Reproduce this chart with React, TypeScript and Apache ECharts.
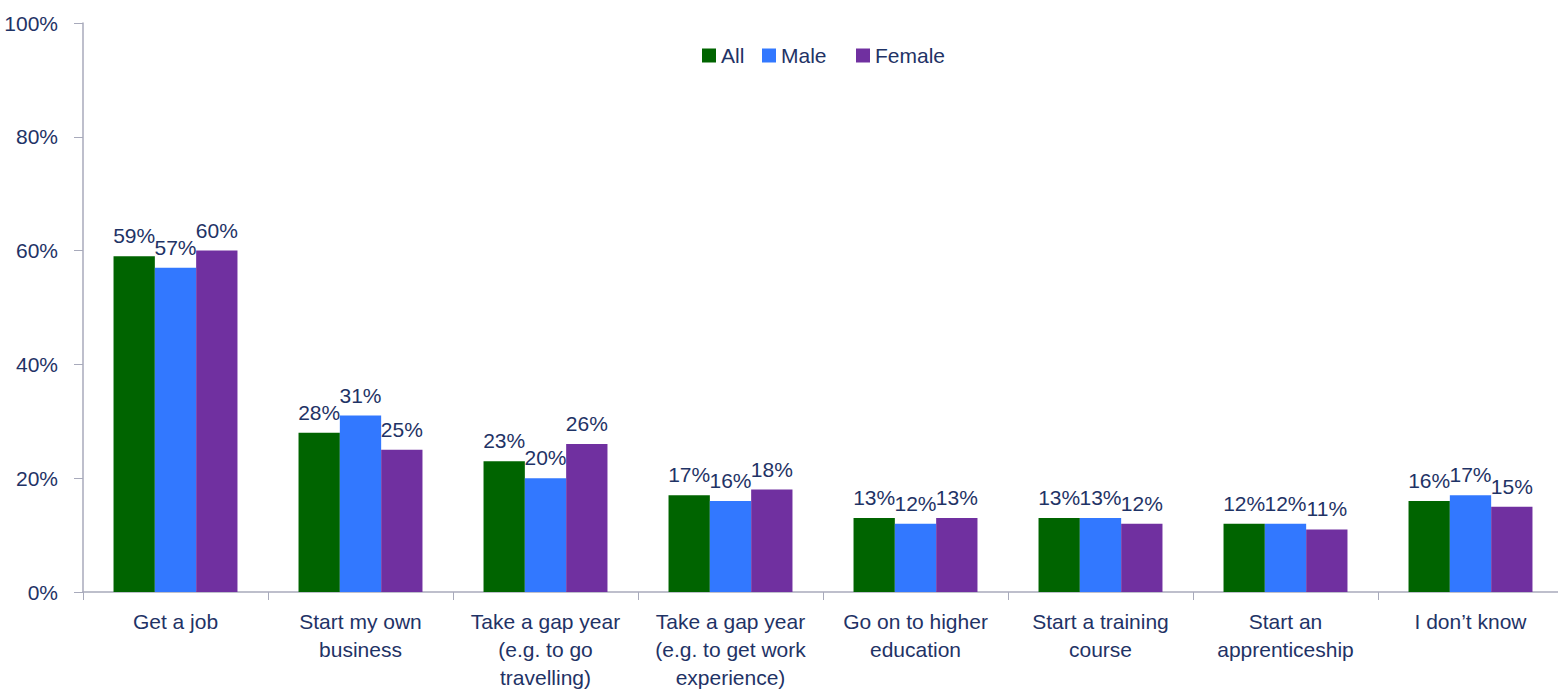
import React, { useEffect, useRef } from "react";
import * as echarts from "echarts";

const categories = [
  "Get a job",
  "Start my own\nbusiness",
  "Take a gap year\n(e.g. to go\ntravelling)",
  "Take a gap year\n(e.g. to get work\nexperience)",
  "Go on to higher\neducation",
  "Start a training\ncourse",
  "Start an\napprenticeship",
  "I don\u2019t know",
];
const allValues = [59, 28, 23, 17, 13, 13, 12, 16];
const maleValues = [57, 31, 20, 16, 12, 13, 12, 17];
const femaleValues = [60, 25, 26, 18, 13, 12, 11, 15];
const seriesNames = ["All", "Male", "Female"];
const colors = ["#006400", "#3278FF", "#7030A0"];
const legendLefts = [697, 757, 851];

const TEXT = "#1F3366";
const AXIS = "#A8AABB";
const FONT = "Liberation Sans, Arial, sans-serif";

export default function App() {
  const ref = useRef<HTMLDivElement>(null);
  useEffect(() => {
    if (!ref.current) return;
    const chart = echarts.init(ref.current, undefined, { renderer: "svg" });
    const values = [allValues, maleValues, femaleValues];
    chart.setOption({
      animation: false,
      textStyle: { fontFamily: FONT },
      legend: seriesNames.map((name, i) => ({
        top: 40,
        left: legendLefts[i],
        itemWidth: 14,
        itemHeight: 14,
        icon: "rect",
        textStyle: { color: TEXT, fontSize: 21, fontFamily: FONT },
        data: [name],
      })),
      grid: {
        left: 83,
        right: -5,
        top: 23,
        bottom: 103,
        containLabel: false,
        outerBoundsMode: "none",
      },
      xAxis: {
        type: "category",
        data: categories,
        axisLine: { lineStyle: { color: AXIS, width: 1.5 } },
        axisTick: { show: true, length: 8, lineStyle: { color: AXIS } },
        axisLabel: {
          color: TEXT,
          fontSize: 21,
          lineHeight: 28,
          margin: 15,
          interval: 0,
          fontFamily: FONT,
        },
      },
      yAxis: {
        type: "value",
        min: 0,
        max: 100,
        interval: 20,
        splitLine: { show: false },
        axisLine: { show: true, lineStyle: { color: AXIS, width: 1.5 } },
        axisTick: { show: true, length: 9, lineStyle: { color: AXIS } },
        axisLabel: {
          color: TEXT,
          fontSize: 21,
          margin: 25,
          formatter: "{value}%",
          fontFamily: FONT,
        },
      },
      series: seriesNames.map((name, i) => ({
        name,
        type: "bar",
        data: values[i],
        barGap: "0%",
        barCategoryGap: "33%",
        itemStyle: { color: colors[i] },
        label: {
          show: true,
          position: "top",
          distance: 10,
          formatter: "{c}%",
          color: TEXT,
          fontSize: 21,
          fontFamily: FONT,
        },
        labelLayout: { hideOverlap: false },
      })),
    });
    return () => chart.dispose();
  }, []);
  return (
    <div
      ref={ref}
      style={{ position: "fixed", left: 0, top: 0, width: 1558, height: 695, background: "#fff" }}
    />
  );
}
